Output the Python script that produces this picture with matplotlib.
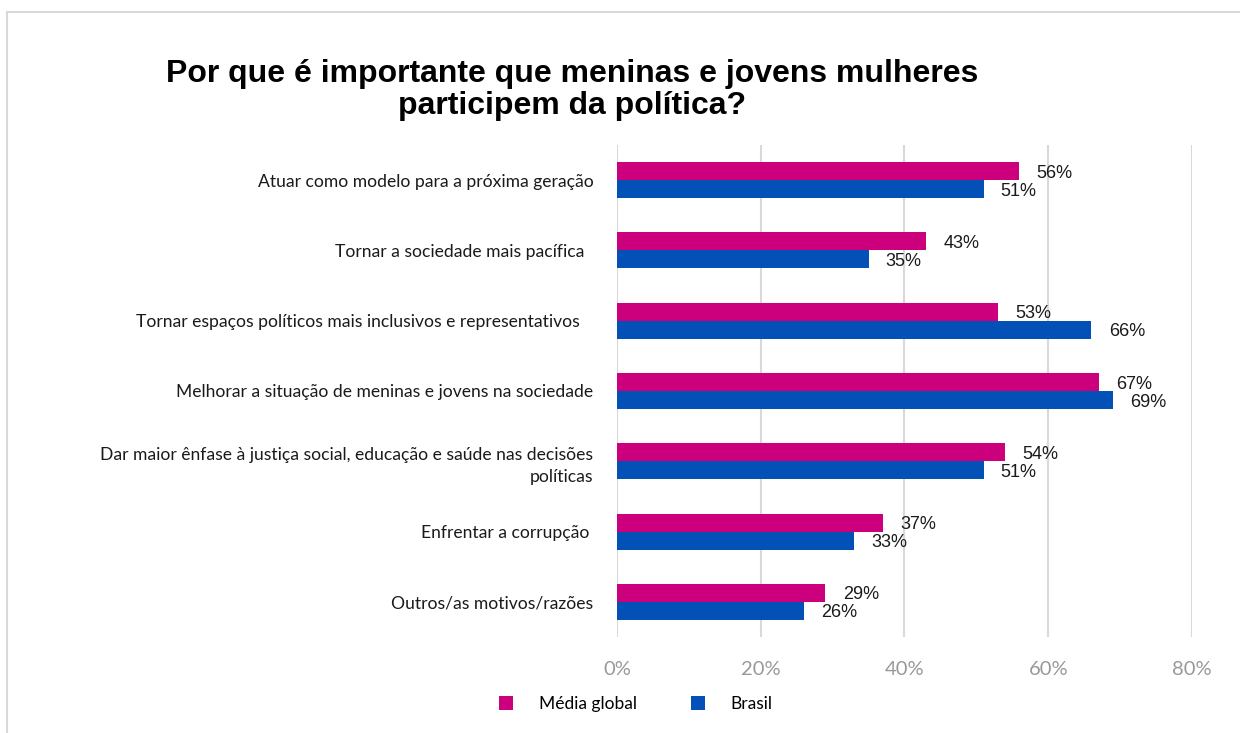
import matplotlib
matplotlib.use("Agg")
import matplotlib.pyplot as plt
from matplotlib.patches import Rectangle, Patch
import numpy as np

# Survey answers, in display order (top to bottom)
categories = [
    "Atuar como modelo para a próxima geração",
    "Tornar a sociedade mais pacífica  ",
    "Tornar espaços políticos mais inclusivos e representativos   ",
    "Melhorar a situação de meninas e jovens na sociedade",
    "Dar maior ênfase à justiça social, educação e saúde nas decisões\npolíticas",
    "Enfrentar a corrupção ",
    "Outros/as motivos/razões",
]
media_global = [56, 43, 53, 67, 54, 37, 29]
brasil = [51, 35, 66, 69, 51, 33, 26]
series_names = ["Média global", "Brasil"]
xticks = [0, 20, 40, 60, 80]

PINK = "#CC007D"
BLUE = "#0351B7"
GRID = "#D9D9D9"

W, H = 1240, 733
fig = plt.figure(figsize=(W / 100, H / 100), dpi=100)
fig.patch.set_facecolor("white")

# light frame around the chart area
fig.patches.append(Rectangle((7 / W, -0.05), 1.2, 1 - 12 / H + 0.05,
                             transform=fig.transFigure, fill=False,
                             edgecolor=GRID, linewidth=1.5))

ax = fig.add_axes([617 / W, (H - 637) / H, (1192 - 617) / W, (637 - 145) / H])

y = np.arange(len(categories))
bh = 0.256
ax.barh(y - bh / 2, media_global, height=bh, color=PINK, label=series_names[0], zorder=3)
ax.barh(y + bh / 2, brasil, height=bh, color=BLUE, label=series_names[1], zorder=3)

for yi, v in zip(y, media_global):
    ax.text(v + 2.4, yi - bh / 2 + 0.03, f"{v}%", va="center", ha="left",
            fontsize=13, family="Liberation Sans", color="#1a1a1a")
for yi, v in zip(y, brasil):
    ax.text(v + 2.4, yi + bh / 2 + 0.03, f"{v}%", va="center", ha="left",
            fontsize=13, family="Liberation Sans", color="#1a1a1a")

ax.set_ylim(len(categories) - 0.5, -0.5)
ax.set_xlim(0, 80)
ax.set_xticks(xticks)
ax.set_xticklabels([f"{t}%" for t in xticks], fontsize=14.5, family="Lato", color="#999999")
ax.set_yticks(y)
ax.set_yticklabels(categories, fontsize=12.6, family="Lato", color="#1a1a1a",
                   linespacing=1.5)
ax.tick_params(axis="both", length=0)
ax.tick_params(axis="x", pad=17)
ax.tick_params(axis="y", pad=17)
for s in ax.spines.values():
    s.set_visible(False)
ax.grid(axis="x", color=GRID, linewidth=1.5, zorder=0)
ax.set_axisbelow(True)

fig.text(572 / W, 1 - 59 / H,
         "Por que é importante que meninas e jovens mulheres\nparticipem da política?",
         ha="center", va="top", fontsize=23, fontweight="bold",
         family="Liberation Sans", linespacing=1.08)

handles = [Patch(facecolor=PINK), Patch(facecolor=BLUE)]
fig.legend(handles, series_names, loc="center", bbox_to_anchor=(636 / W, 1 - 704 / H),
           ncol=2, frameon=False, prop={"family": "Lato", "size": 12.5},
           handlelength=0.8, handleheight=0.8, columnspacing=3.1, handletextpad=1.5)

fig.savefig("out.png", dpi=100)
